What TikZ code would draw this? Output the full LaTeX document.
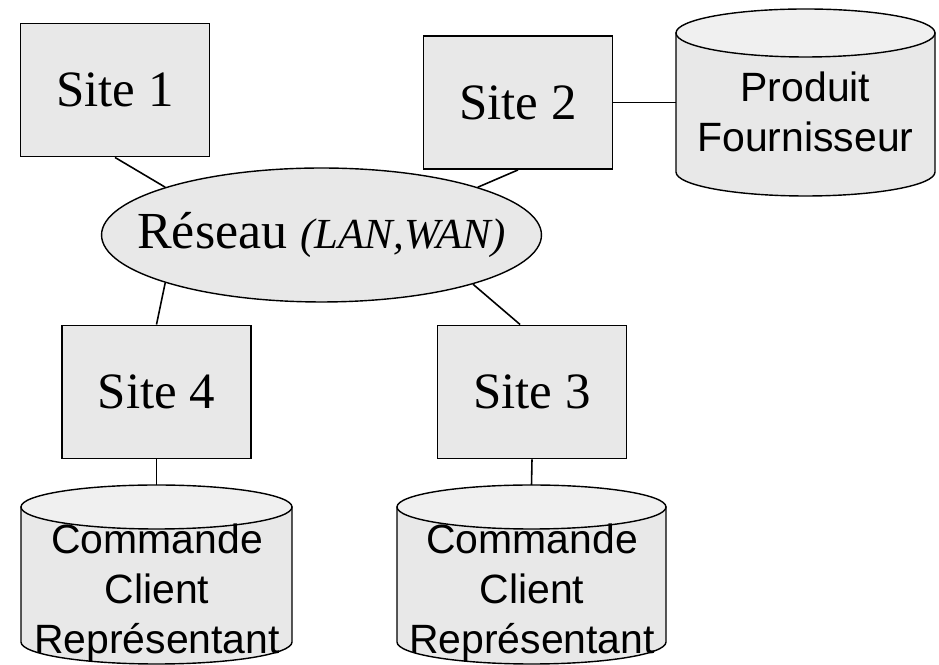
\documentclass[tikz,border=0pt]{standalone}
\usepackage{fontspec}
\usetikzlibrary{shapes.geometric}
\setmainfont{Liberation Serif}
\setsansfont{Liberation Sans}
\definecolor{boxgray}{HTML}{E8E8E8}
\definecolor{topgray}{HTML}{F0F0F0}
\begin{document}
\begin{tikzpicture}[x=.02cm, y=.02cm,
	site/.style={draw, line width=1.1pt, fill=boxgray, minimum width=3.78cm,
		minimum height=2.66cm, inner sep=0pt, font=\fontsize{29}{34}\selectfont},
	net/.style={draw, ellipse, line width=.8pt, fill=boxgray, minimum width=8.8cm,
		minimum height=2.68cm, inner sep=0pt},
	base/.style={align=center, inner sep=0pt, font=\sffamily\fontsize{23.3}{28.5}\selectfont},
	body/.style={draw, line width=.8pt, fill=boxgray},
	lid/.style={draw, line width=.8pt, fill=topgray},
	link/.style={draw, line width=.9pt}]
	\useasboundingbox (0,0) rectangle (939,665);
	%databases
	\foreach \n/\cx/\ty/\by/\rx/\ry in {pf/805.5/632/493/129.5/24,
		bd4/156.5/158/23/135.5/22, bd3/531.5/158/23/134.5/22}
	{
		\path[body] (\cx-\rx,\ty) -- (\cx-\rx,\by)
		arc[start angle=180, end angle=360, x radius=\rx, y radius=\ry]
		-- (\cx+\rx,\ty) -- cycle;
		\path[lid] (\cx,\ty) ellipse[x radius=\rx, y radius=\ry];
		\coordinate (\n-n) at (\cx,\ty+\ry);
		\coordinate (\n-w) at (\cx-\rx,{(\ty+\by)/2});
	}
	\node[base] (pf) at (805.5,553) {Produit\\Fournisseur};
	\node[base] (bd4) at (157,72) {Commande\\Client\\Représentant};
	\node[base] (bd3) at (532,72) {Commande\\Client\\Représentant};
	%sites
	\node[site] (s1) at (115,575) {Site 1};
	\node[site] (s2) at (518,562.5) {Site 2};
	\node[site] (s4) at (156.5,273) {Site 4};
	\node[site] (s3) at (532,273) {Site 3};
	%network
	\node[net] (res) at (321.5,430)
	{\makebox[0pt]{\fontsize{29.6}{34}\selectfont Réseau
		{\fontsize{24.4}{28}\selectfont\itshape (LAN,WAN)}}};
	%links
	\path[link] (s1.south) -- (res.163);
	\path[link] (s2.south) -- (res.17);
	\path[link] (res.197) -- (s4.north);
	\path[link] (res.342) -- (s3.100);
	\path[link] (s2.east) -- (pf-w);
	\path[link] (s4.south) -- (bd4-n);
	\path[link] (s3.south) -- (bd3-n);
\end{tikzpicture}
\end{document}
